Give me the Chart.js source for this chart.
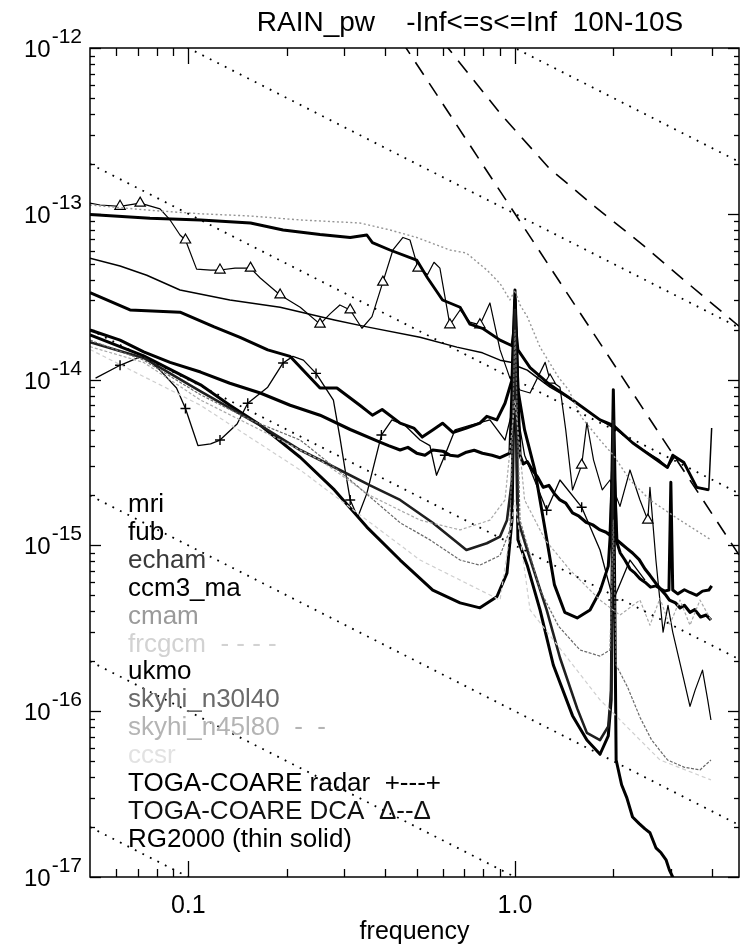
<!DOCTYPE html>
<html>
<head>
<meta charset="utf-8">
<script src="https://cdn.jsdelivr.net/npm/chart.js@4.4.1/dist/chart.umd.min.js"></script>
<style>
  html, body { margin: 0; padding: 0; background: #fff; overflow: hidden; }
  canvas { display: block; }
</style>
</head>
<body>
<canvas id="spec" width="740" height="951" style="width:740px;height:951px"></canvas>
<script>
// ---- text ----
const TITLE = 'RAIN_pw    -Inf<=s<=Inf  10N-10S';
const X_TITLE = 'frequency';
const X_RANGE = [0.05, 4.85];
const Y_RANGE = [1e-17, 1e-12];
const xLabelValues = [0.1, 1];
const xLabelText = ['0.1', '1.0'];
const xMinorTicks = [0.06, 0.07, 0.08, 0.09, 0.2, 0.3, 0.4, 0.5, 0.6, 0.7, 0.8, 0.9, 2, 3, 4];
const yDecades = [-12, -13, -14, -15, -16, -17];

const legendNames = ['mri', 'fub', 'echam', 'ccm3_ma', 'cmam', 'frcgcm  - - - -', 'ukmo',
  'skyhi_n30l40', 'skyhi_n45l80  -  -', 'ccsr',
  'TOGA-COARE radar  +---+', 'TOGA-COARE DCA  \u0394--\u0394', 'RG2000 (thin solid)'];
const legendColors = ['#000', '#000', '#3a3a3a', '#000', '#9a9a9a', '#d2d2d2', '#000',
  '#6a6a6a', '#b4b4b4', '#e2e2e2', '#000', '#111', '#000'];

// ---- guide lines: power ~ 1/f (dotted) at f = 0.05 and f = 4.85 ----
const guideFreq = [0.05, 4.85];
const dottedGuides = [
  [2e-11, 2.06e-13], [2e-12, 2.06e-14], [2e-13, 2.06e-15], [2e-14, 2.06e-16],
  [2e-15, 2.06e-17], [2e-16, 2.06e-18], [2e-17, 2.06e-19]
];
// steep dashed curves
const dashAFreq = [0.45, 4.85];
const dashAPower = [1.097e-12, 8.77e-16];
const dashBFreq = [0.6, 0.91, 1.27, 1.76, 2.46, 3.43, 4.85];
const dashBPower = [1.1e-12, 3.94e-13, 1.89e-13, 1.10e-13, 6.5e-14, 3.72e-14, 2.1e-14];

// ---- model spectra ----
const mriFreq = [0.05,0.0763,0.109,0.155,0.195,0.253,0.313,0.352,0.366,0.414,0.50,0.54,0.60,0.679,0.728,0.795,0.90,0.979,1.0,1.021,1.112,1.28,1.5,1.821,2.0,2.29,2.93,3.04,3.29,3.6,3.92];
const mriPower = [9.9e-14,9.4e-14,9.18e-14,8.8e-14,7.99e-14,7.5e-14,7.2e-14,7.45e-14,6.7e-14,6.05e-14,5.26e-14,4.1e-14,3.02e-14,2.73e-14,2.16e-14,2.04e-14,1.73e-14,1.6e-14,2.29e-14,1.51e-14,1.18e-14,9.3e-15,7.53e-15,5.71e-15,5.3e-15,4.16e-15,2.95e-15,3.5e-15,3.16e-15,2.24e-15,2.16e-15];

const rgFreq = [0.05,0.0618,0.0746,0.0943,0.134,0.191,0.28,0.352,0.512,0.664,0.795,0.90,0.979,1.0,1.021,1.09,1.28,1.5,1.821,2.05,2.29,2.5,2.75,2.93,3.07,3.29,3.6,3.92,4.0];
const rgPower = [5.4e-14,4.84e-14,4.26e-14,3.47e-14,3.02e-14,2.73e-14,2.29e-14,2.08e-14,1.8e-14,1.57e-14,1.45e-14,1.31e-14,1.27e-14,1.73e-14,1.2e-14,1.14e-14,9.0e-15,7.53e-15,5.71e-15,4.97e-15,4.16e-15,3.7e-15,3.3e-15,2.95e-15,3.4e-15,3.16e-15,2.24e-15,2.16e-15,5.1e-15];

const fubFreq = [0.05,0.0663,0.0943,0.12,0.144,0.175,0.205,0.253,0.285,0.335,0.366,0.392,0.445,0.49,0.52,0.56,0.60,0.645,0.71,0.781,0.82,0.88,0.932,0.979,1.0,1.021,1.07,1.15,1.237,1.32,1.42,1.55,1.697,1.821,1.93,1.97,2.0,
  2.04,2.1,2.17,2.25,2.33,2.413,2.5,2.6,2.7,2.779,2.87,2.96,3.0,3.04,3.15,3.3,3.433,3.6,3.75,3.92,4.0];
const fubPower = [3.35e-14,2.63e-14,2.55e-14,2.08e-14,1.8e-14,1.51e-14,1.38e-14,8.9e-15,8.9e-15,7.0e-15,6.1e-15,6.6e-15,5.46e-15,5.1e-15,4.5e-15,4.97e-15,5.46e-15,4.8e-15,5.1e-15,5.46e-15,6.0e-15,5.71e-15,7.2e-15,9.94e-15,3.47e-14,8.66e-15,4.97e-15,2.85e-15,1.24e-15,5.8e-16,3.95e-16,3.65e-16,4.08e-16,5.3e-16,7.5e-16,1.42e-15,8.7e-15,
  1.08e-15,9.0e-16,8.16e-16,7.2e-16,6.8e-16,6.3e-16,6.0e-16,5.6e-16,5.7e-16,5.5e-16,5.3e-16,5.38e-16,2.4e-15,5.38e-16,5.1e-16,5.4e-16,5.2e-16,5.0e-16,5.3e-16,5.38e-16,5.7e-16];

const ukmoFreq = [0.05,0.0618,0.073,0.0879,0.109,0.134,0.166,0.205,0.253,0.313,0.386,0.41,0.445,0.47,0.50,0.53,0.56,0.6,0.632,0.67,0.71,0.75,0.795,0.85,0.90,0.965,1.0,
  1.036,1.06,1.09,1.13,1.17,1.22,1.27,1.32,1.373,1.43,1.5,1.57,1.65,1.73,1.821,1.9,1.954,2.0,2.05,2.12,2.2,2.29,2.4,2.5,2.589,2.7,2.8,2.9,2.97,3.1,3.2,3.3,3.433,3.55,3.7,3.85,3.98];
const ukmoPower = [1.99e-14,1.73e-14,1.47e-14,1.27e-14,1.11e-14,9.5e-15,8.3e-15,7.0e-15,6.1e-15,5.0e-15,4.2e-15,4.0e-15,3.76e-15,3.9e-15,3.6e-15,3.5e-15,3.76e-15,3.7e-15,3.5e-15,3.45e-15,3.65e-15,3.75e-15,3.6e-15,3.5e-15,3.38e-15,3.6e-15,3.02e-14,
  3.5e-15,3.1e-15,3.2e-15,2.85e-15,2.6e-15,2.24e-15,2.3e-15,2.05e-15,1.88e-15,1.8e-15,1.57e-15,1.5e-15,1.38e-15,1.33e-15,1.24e-15,1.2e-15,1.15e-15,3.76e-15,1.08e-15,1.02e-15,9.6e-16,9.0e-16,8.2e-16,7.2e-16,6.6e-16,5.9e-16,5.4e-16,5.0e-16,4.68e-16,4.5e-16,4.2e-16,4.35e-16,3.95e-16,4.1e-16,3.7e-16,3.8e-16,3.55e-16];

const ccmFreq = [0.05,0.073,0.109,0.134,0.163,0.22,0.28,0.352,0.445,0.56,0.679,0.781,0.88,0.945,0.979,1.0,1.021,1.09,1.193,1.31,1.5,1.66,1.821,1.93,1.97,2.0,2.04,2.12,2.2,2.29,2.4,2.5,2.589,2.7,2.8,2.9,2.97,3.04,3.2];
const ccmPower = [1.86e-14,1.39e-14,9.3e-15,7.0e-15,5.46e-15,3.4e-15,2.16e-15,1.29e-15,8.16e-16,5.38e-16,4.5e-16,4.2e-16,4.9e-16,6.8e-16,1.42e-15,1.99e-14,1.08e-15,7.6e-16,4.08e-16,1.9e-16,9.4e-17,6.7e-17,5.5e-17,7.1e-17,1.17e-16,4.97e-15,5.08e-17,3.6e-17,3.0e-17,2.3e-17,2.1e-17,1.95e-17,1.85e-17,1.5e-17,1.4e-17,1.27e-17,1.1e-17,1.0e-17,7.8e-18];

const echamFreq = [0.05,0.073,0.109,0.166,0.22,0.291,0.36,0.445,0.56,0.71,0.82,0.90,0.945,0.979,1.0,1.021,1.09,1.25,1.373,1.55,1.66,1.821,1.93,1.97,2.0];
const echamPower = [1.68e-14,1.35e-14,8.5e-15,5.3e-15,3.76e-15,2.85e-15,2.3e-15,1.88e-15,1.37e-15,9.38e-16,1.03e-15,1.13e-15,1.42e-15,2.48e-15,2.63e-14,1.42e-15,9.38e-16,4.08e-16,2.1e-16,1.04e-16,7.4e-17,6.7e-17,8.1e-17,1.34e-16,5.71e-15];

const cmamFreq = [0.05,0.0763,0.109,0.155,0.22,0.335,0.414,0.50,0.632,0.71,0.82,0.90,0.965,1.0,1.036,1.09,1.193,1.36,1.46,1.6,1.821,2.0,2.249,2.589,3.199,3.98];
const cmamPower = [1.13e-13,1.05e-13,1.0e-13,9.7e-14,9.18e-14,8.8e-14,7.99e-14,7.2e-14,6.05e-14,5.8e-14,4.58e-14,3.8e-14,3.02e-14,3.47e-14,2.82e-14,2.4e-14,1.57e-14,1.03e-14,8.66e-15,5.9e-15,4.32e-15,3.5e-15,2.48e-15,1.88e-15,1.42e-15,1.08e-15];

const sky30Freq = [0.05,0.073,0.109,0.155,0.22,0.313,0.445,0.549,0.679,0.781,0.9,0.965,1.0,1.036,1.193,1.36,1.581,1.821,1.954,2.0,2.04,2.21,2.413,2.62,2.93,3.29,3.684,3.98];
const sky30Power = [1.73e-14,1.31e-14,8.1e-15,5.71e-15,4.32e-15,2.48e-15,1.37e-15,1.08e-15,8.16e-16,7.6e-16,8.7e-16,1.24e-15,1.99e-14,1.42e-15,5.38e-16,3.25e-16,2.34e-16,2.15e-16,2.34e-16,1.42e-15,1.9e-16,1.4e-16,9.2e-17,6.7e-17,5.08e-17,4.6e-17,4.42e-17,5.08e-17];

const sky45Freq = [0.05,0.073,0.109,0.166,0.253,0.36,0.512,0.679,0.838,0.932,1.0,1.07,1.237,1.474,1.821,2.096,2.413,2.589,2.779,2.97,3.199,3.433,3.684,3.98];
const sky45Power = [1.58e-14,1.27e-14,7.53e-15,4.97e-15,3.27e-15,2.0e-15,1.42e-15,1.24e-15,1.42e-15,1.88e-15,7.53e-15,1.88e-15,1.08e-15,7.1e-16,4.68e-16,3.8e-16,4.68e-16,3.3e-16,4.8e-16,3.3e-16,4.68e-16,3.3e-16,4.68e-16,3.55e-16];

const frcFreq = [0.05,0.109,0.22,0.512,0.9,1.0,1.112,1.821,2.779,3.98];
const frcPower = [1.52e-14,7.0e-15,2.85e-15,8.16e-16,4.68e-16,1.88e-15,4.08e-16,1.17e-16,5.08e-17,3.85e-17];

// ---- observations ----
const dcaFreq = [0.050,0.0537,0.0618,0.0712,0.0819,0.0879,0.0943,0.098,0.106,0.117,0.125,0.139,0.155,0.166,0.191,0.220,0.253,0.272,0.291,0.313,0.34,0.365,0.394,0.423,0.454,0.477,0.505,0.54,0.565,0.589,0.632,0.679,0.728,0.781,0.838,0.900,0.965,1.036,1.112,1.237,1.280,1.373,1.43,1.50,1.60,1.66,1.74,1.85,1.954,2.096,2.249,2.413,2.55,2.589,2.7,2.84,2.94,3.04,3.29,3.433,3.56,3.75,3.89,3.98];
const dcaPower = [1.16e-13,1.13e-13,1.11e-13,1.16e-13,1.07e-13,9.18e-14,7.45e-14,6.95e-14,4.64e-14,4.58e-14,4.58e-14,4.70e-14,4.70e-14,4.1e-14,3.24e-14,2.73e-14,2.16e-14,2.5e-14,2.82e-14,2.63e-14,2.04e-14,2.4e-14,3.87e-14,6.05e-14,7.2e-14,6.95e-14,4.70e-14,4.3e-14,5.1e-14,4.7e-14,2.14e-14,2.63e-14,2.22e-14,2.14e-14,2.9e-14,1.51e-14,1.02e-14,8.66e-15,8.3e-15,1.27e-14,9.94e-15,9.0e-15,4.97e-15,2.16e-15,3.05e-15,5.5e-15,3.27e-15,2.16e-15,2.48e-15,1.72e-15,2.85e-15,1.88e-15,1.42e-15,2.24e-15,8.16e-16,3.0e-16,4.35e-16,3.0e-16,1.54e-16,1.07e-16,1.34e-16,1.77e-16,1.17e-16,8.85e-17];
const dcaMarked = [2, 3, 7, 10, 12, 14, 16, 19, 22, 26, 30, 33, 40, 44, 52];

const radarFreq = [0.052,0.0618,0.073,0.0819,0.092,0.098,0.107,0.117,0.125,0.141,0.152,0.175,0.195,0.209,0.225,0.246,0.278,0.291,0.302,0.313,0.33,0.352,0.39,0.42,0.46,0.512,0.549,0.575,0.61,0.655,0.728,0.838,0.932,1.0,1.07,1.25,1.373,1.60,1.821,2.0,2.249,2.5];
const radarPower = [1.02e-14,1.22e-14,1.4e-14,1.14e-14,8.9e-15,6.7e-15,4.0e-15,4.1e-15,4.32e-15,5.4e-15,7.2e-15,9.0e-15,1.26e-14,1.38e-14,1.31e-14,1.09e-14,7.53e-15,4.5e-15,2.85e-15,1.88e-15,1.48e-15,2.06e-15,4.63e-15,5.71e-15,5.3e-15,4.32e-15,4.0e-15,2.65e-15,3.5e-15,4.97e-15,5.3e-15,5.71e-15,4.32e-15,7.53e-15,3.5e-15,1.63e-15,2.48e-15,1.7e-15,9.38e-16,4.68e-16,8.16e-16,6.18e-16];
const radarMarked = [1, 5, 8, 10, 12, 15, 19, 22, 28, 35, 37, 39];

// ---- build datasets ----
function pts(freq, power) { return freq.map((f, i) => ({ x: f, y: power[i] })); }
function line(label, freq, power, color, width, dash, extra) {
  return Object.assign({
    label, data: pts(freq, power), borderColor: color, borderWidth: width,
    borderDash: dash || [], pointRadius: 0, fill: false, tension: 0,
    borderJoinStyle: 'round'
  }, extra || {});
}

const datasets = [];
dottedGuides.forEach((g, i) => datasets.push(
  line('guide' + i, guideFreq, g, '#000', 1.8, [1.8, 6.6], { borderCapStyle: 'butt' })));
datasets.push(line('dashA', dashAFreq, dashAPower, '#000', 1.6, [15, 10]));
datasets.push(line('dashB', dashBFreq, dashBPower, '#000', 1.6, [15, 10]));

datasets.push(line('frcgcm', frcFreq, frcPower, '#cfcfcf', 1.2, [4, 3]));
datasets.push(line('skyhi_n45l80', sky45Freq, sky45Power, '#a8a8a8', 1.2, [3, 2]));
datasets.push(line('skyhi_n30l40', sky30Freq, sky30Power, '#6a6a6a', 1.2, [3, 1.5]));
datasets.push(line('cmam', cmamFreq, cmamPower, '#959595', 1.4, [2, 2.5]));

datasets.push(line('echam', echamFreq, echamPower, '#1e1e1e', 2.6));
datasets.push(line('ccm3_ma', ccmFreq, ccmPower, '#000', 3));
datasets.push(line('ukmo', ukmoFreq, ukmoPower, '#000', 3.1));
datasets.push(line('fub', fubFreq, fubPower, '#000', 3));
datasets.push(line('mri', mriFreq, mriPower, '#000', 2.9));
datasets.push(line('RG2000', rgFreq, rgPower, '#000', 1.5));

datasets.push(line('TOGA-COARE DCA', dcaFreq, dcaPower, '#000', 1.2, [], {
  pointStyle: 'triangle',
  pointRadius: dcaFreq.map((_, i) => dcaMarked.includes(i) ? 6 : 0),
  pointBackgroundColor: '#fff', pointBorderColor: '#000', pointBorderWidth: 1.2
}));
datasets.push(line('TOGA-COARE radar', radarFreq, radarPower, '#000', 1.3, [], {
  pointStyle: 'cross',
  pointRadius: radarFreq.map((_, i) => radarMarked.includes(i) ? 5 : 0),
  pointBorderColor: '#000', pointBorderWidth: 1.4
}));

// ---- frame, inward ticks and all labels ----
const FONT = '"Liberation Sans", Arial, Helvetica, sans-serif';
const frameAndText = {
  id: 'frameAndText',
  afterDatasetsDraw(chart) {
    const { ctx, chartArea: a, scales: { x, y } } = chart;
    const seg = (x0, y0, x1, y1) => { ctx.beginPath(); ctx.moveTo(x0, y0); ctx.lineTo(x1, y1); ctx.stroke(); };
    ctx.save();
    ctx.strokeStyle = '#000';
    ctx.lineWidth = 1.5;
    ctx.strokeRect(a.left, a.top, a.right - a.left, a.bottom - a.top);

    ctx.lineWidth = 1.3;
    xMinorTicks.forEach(v => {
      const px = Math.round(x.getPixelForValue(v)) + 0.5;
      seg(px, a.bottom, px, a.bottom - 8);
      seg(px, a.top, px, a.top + 8);
    });
    xLabelValues.forEach(v => {
      const px = Math.round(x.getPixelForValue(v)) + 0.5;
      seg(px, a.bottom, px, a.bottom - 16);
      seg(px, a.top, px, a.top + 16);
    });
    for (let e = -17; e <= -12; e++) {
      const py = Math.round(y.getPixelForValue(Math.pow(10, e))) + 0.5;
      seg(a.left, py, a.left + 11, py);
      seg(a.right, py, a.right - 11, py);
      if (e === -12) continue;
      for (let m = 2; m <= 9; m++) {
        const q = Math.round(y.getPixelForValue(m * Math.pow(10, e))) + 0.5;
        seg(a.left, q, a.left + 5, q);
        seg(a.right, q, a.right - 5, q);
      }
    }

    ctx.fillStyle = '#000';
    ctx.textBaseline = 'alphabetic';
    // title
    ctx.font = '28px ' + FONT;
    ctx.textAlign = 'center';
    ctx.fillText(TITLE, 470, 31);
    // x labels
    ctx.font = '25px ' + FONT;
    xLabelValues.forEach((v, i) => ctx.fillText(xLabelText[i], x.getPixelForValue(v), 913));
    ctx.fillText(X_TITLE, (a.left + a.right) / 2, 939);
    // y labels: 10 with superscript exponent
    yDecades.forEach(e => {
      const py = y.getPixelForValue(Math.pow(10, e));
      const sup = String(e);
      ctx.font = '21px ' + FONT;
      const sw = ctx.measureText(sup).width;
      ctx.textAlign = 'left';
      ctx.fillText(sup, 82 - sw, py - 5);
      ctx.font = '24px ' + FONT;
      ctx.textAlign = 'right';
      ctx.fillText('10', 82 - sw - 1, py + 9);
    });
    // legend list
    ctx.font = '26px ' + FONT;
    ctx.textAlign = 'left';
    legendNames.forEach((n, i) => {
      ctx.fillStyle = legendColors[i];
      ctx.fillText(n, 128, 512 + 27.9 * i);
    });
    ctx.restore();
  }
};

new Chart(document.getElementById('spec'), {
  type: 'line',
  data: { datasets },
  options: {
    responsive: false,
    devicePixelRatio: 1,
    animation: false,
    layout: { padding: { left: 90, right: 1, top: 48, bottom: 74 } },
    plugins: { legend: { display: false }, title: { display: false }, tooltip: { enabled: false } },
    scales: {
      x: { type: 'logarithmic', min: X_RANGE[0], max: X_RANGE[1], display: false },
      y: { type: 'logarithmic', min: Y_RANGE[0], max: Y_RANGE[1], display: false }
    }
  },
  plugins: [frameAndText]
});
</script>
</body>
</html>
